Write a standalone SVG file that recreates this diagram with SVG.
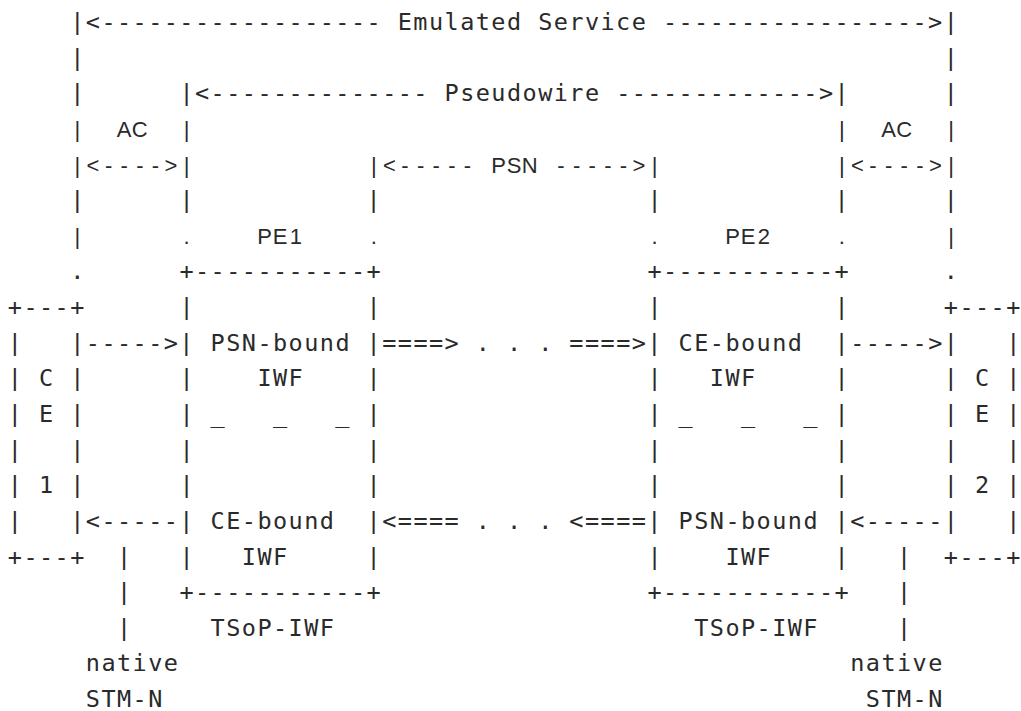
<svg xmlns="http://www.w3.org/2000/svg" width="1021" height="711" viewBox="0 0 1021 711">
<style>
.m{font-family:"DejaVu Sans Mono","Liberation Mono",monospace;font-size:23.5px;letter-spacing:1.45px;fill:#2a2a2a;white-space:pre}
.s{font-family:"Liberation Sans","Arial",sans-serif;font-size:22px;fill:#2a2a2a;text-anchor:middle}
</style>
<rect width="1021" height="711" fill="#fff"/>
<g id="emulated-service">
<text class="m" xml:space="preserve" x="70.2" y="30">|&lt;------------------ Emulated Service -----------------&gt;|</text>
<text class="m" y="65.6"><tspan x="70.2">|</tspan><tspan x="943.8">|</tspan></text>
</g>
<g id="pseudowire">
<text class="m" y="101.3"><tspan x="70.2">|</tspan><tspan x="179.4" xml:space="preserve">|&lt;-------------- Pseudowire -------------&gt;|</tspan><tspan x="943.8">|</tspan></text>
</g>
<g id="ac-psn">
<text class="s" y="136.9" x="77.4 124.2 139.8 186.6 841.8 888.6 904.2 951">|AC||AC|</text>
<text class="s" y="172.5" x="77.4 93 108.6 124.2 139.8 155.4 171 186.6">|&lt;----&gt;|</text>
<text class="s" y="172.5" x="373.8 389.4 405 420.6 436.2 451.8 467.4 498.6 514.2 529.8 561 576.6 592.2 607.8 623.4 639 654.6">|&lt;-----PSN-----&gt;|</text>
<text class="s" y="172.5" x="841.8 857.4 873 888.6 904.2 919.8 935.4 951">|&lt;----&gt;|</text>
<text class="m" y="208.2"><tspan x="70.2">|</tspan><tspan x="179.4">|</tspan><tspan x="366.6">|</tspan><tspan x="647.4">|</tspan><tspan x="834.6">|</tspan><tspan x="943.8">|</tspan></text>
<text class="s" y="243.8" x="77.4 186.6 264.6 280.2 295.8 373.8 654.6 732.6 748.2 763.8 841.8 951">|.PE1..PE2.|</text>
<text class="m" y="279.4"><tspan x="70.2">.</tspan><tspan x="179.4">+-----------+</tspan><tspan x="647.4">+-----------+</tspan><tspan x="943.8">.</tspan></text>
</g>
<g id="pe-boxes">
<text class="m" y="315"><tspan x="7.8">+---+</tspan><tspan x="179.4">|</tspan><tspan x="366.6">|</tspan><tspan x="647.4">|</tspan><tspan x="834.6">|</tspan><tspan x="943.8">+---+</tspan></text>
<text class="m" y="350.7" xml:space="preserve"><tspan x="7.8">|</tspan><tspan x="70.2">|-----&gt;|</tspan><tspan x="210.6">PSN-bound</tspan><tspan x="366.6">|====&gt; . . . ====&gt;|</tspan><tspan x="678.6">CE-bound</tspan><tspan x="834.6">|-----&gt;|</tspan><tspan x="1006.2">|</tspan></text>
<text class="m" y="386.3" xml:space="preserve"><tspan x="7.8">| C |</tspan><tspan x="179.4">|</tspan><tspan x="257.4">IWF</tspan><tspan x="366.6">|</tspan><tspan x="647.4">|</tspan><tspan x="709.8">IWF</tspan><tspan x="834.6">|</tspan><tspan x="943.8">| C |</tspan></text>
<text class="m" y="421.9" xml:space="preserve"><tspan x="7.8">| E |</tspan><tspan x="179.4">| _   _   _ |</tspan><tspan x="647.4">| _   _   _ |</tspan><tspan x="943.8">| E |</tspan></text>
<text class="m" y="457.6" xml:space="preserve"><tspan x="7.8">|   |</tspan><tspan x="179.4">|</tspan><tspan x="366.6">|</tspan><tspan x="647.4">|</tspan><tspan x="834.6">|</tspan><tspan x="943.8">|   |</tspan></text>
<text class="m" y="493.2" xml:space="preserve"><tspan x="7.8">| 1 |</tspan><tspan x="179.4">|</tspan><tspan x="366.6">|</tspan><tspan x="647.4">|</tspan><tspan x="834.6">|</tspan><tspan x="943.8">| 2 |</tspan></text>
<text class="m" y="528.8" xml:space="preserve"><tspan x="7.8">|</tspan><tspan x="70.2">|&lt;-----|</tspan><tspan x="210.6">CE-bound</tspan><tspan x="366.6">|&lt;==== . . . &lt;====|</tspan><tspan x="678.6">PSN-bound</tspan><tspan x="834.6">|&lt;-----|</tspan><tspan x="1006.2">|</tspan></text>
<text class="m" y="564.5"><tspan x="7.8">+---+</tspan><tspan x="117">|</tspan><tspan x="179.4">|</tspan><tspan x="241.8">IWF</tspan><tspan x="366.6">|</tspan><tspan x="647.4">|</tspan><tspan x="725.4">IWF</tspan><tspan x="834.6">|</tspan><tspan x="897">|</tspan><tspan x="943.8">+---+</tspan></text>
<text class="m" y="600.1"><tspan x="117">|</tspan><tspan x="179.4">+-----------+</tspan><tspan x="647.4">+-----------+</tspan><tspan x="897">|</tspan></text>
</g>
<g id="labels">
<text class="m" y="635.7"><tspan x="117">|</tspan><tspan x="210.6">TSoP-IWF</tspan><tspan x="694.2">TSoP-IWF</tspan><tspan x="897">|</tspan></text>
<text class="m" y="671.3"><tspan x="85.8">native</tspan><tspan x="850.2">native</tspan></text>
<text class="m" y="707"><tspan x="85.8">STM-N</tspan><tspan x="865.8">STM-N</tspan></text>
</g>
</svg>
